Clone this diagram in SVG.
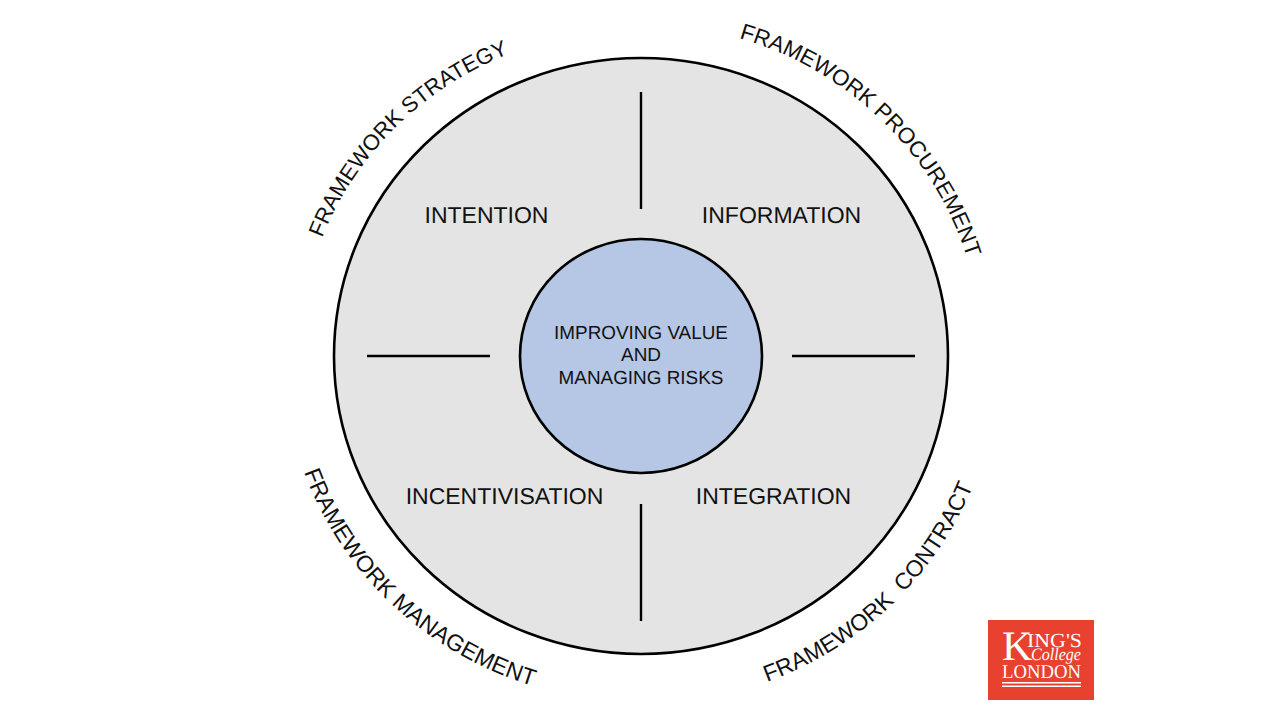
<svg xmlns="http://www.w3.org/2000/svg" width="1280" height="720" viewBox="0 0 1280 720">
  <style>
    text { font-family: "Liberation Sans", Arial, sans-serif; fill: #111; text-rendering: geometricPrecision; }
    .lab { font-size: 23px; text-anchor: middle; }
    .mid { font-size: 18.9px; text-anchor: middle; }
    .div { stroke: #000; stroke-width: 2.4; fill: none; }
    .logo { font-family: "Liberation Serif", "Times New Roman", serif; fill: #fff; }
  </style>
  <defs>
    <path id="pTL" d="M322 238 A336 326 0 0 1 641 30"/>
    <path id="pTR" d="M739 38 A341 331 0 0 1 982 356"/>
    <path id="pBL" d="M304 472 A357 346 0 0 0 641 702"/>
    <path id="pBR" d="M767 682 A357 346 0 0 0 998 356"/>
  </defs>
  <rect width="1280" height="720" fill="#fff"/>
  <g id="outer-circle">
    <ellipse cx="641" cy="356" rx="307" ry="298" fill="#e4e4e4" stroke="#000" stroke-width="2.600"/>
  </g>
  <g id="connectors">
    <line class="div" x1="641" y1="92" x2="641" y2="209"/>
    <line class="div" x1="641" y1="504" x2="641" y2="621"/>
    <line class="div" x1="367" y1="356" x2="490" y2="356"/>
    <line class="div" x1="792" y1="356" x2="915" y2="356"/>
  </g>
  <g id="centre">
    <ellipse cx="641" cy="356" rx="121" ry="117" fill="#b5c7e5" stroke="#000" stroke-width="2.600"/>
    <text class="mid" x="641" y="339">IMPROVING VALUE</text>
    <text class="mid" x="641" y="361">AND</text>
    <text class="mid" x="641" y="384">MANAGING RISKS</text>
  </g>
  <g id="intention"><text class="lab" x="486.500" y="223">INTENTION</text></g>
  <g id="information"><text class="lab" x="781.500" y="223">INFORMATION</text></g>
  <g id="incentivisation"><text class="lab" x="504.500" y="504">INCENTIVISATION</text></g>
  <g id="integration"><text class="lab" x="773.500" y="504">INTEGRATION</text></g>
  <g id="framework-strategy"><text style="font-size:22.1px"><textPath href="#pTL">FRAMEWORK STRATEGY</textPath></text></g>
  <g id="framework-procurement"><text style="font-size:22.4px"><textPath href="#pTR">FRAMEWORK PROCUREMENT</textPath></text></g>
  <g id="framework-management"><text style="font-size:23.1px"><textPath href="#pBL">FRAMEWORK MANAGEMENT</textPath></text></g>
  <g id="framework-contract"><text style="font-size:23px" xml:space="preserve"><textPath href="#pBR">FRAMEWORK  CONTRACT</textPath></text></g>
  <g id="logo">
    <rect x="988" y="620" width="106" height="80" fill="#e8412f"/>
    <text class="logo" x="1002" y="660" font-size="42">K</text>
    <text class="logo" x="1027" y="647" font-size="20" textLength="55" lengthAdjust="spacingAndGlyphs">ING'S</text>
    <text class="logo" x="1031" y="660" font-size="17.500" font-style="italic" textLength="50" lengthAdjust="spacingAndGlyphs">College</text>
    <text class="logo" x="1002" y="678" font-size="19.500" textLength="79" lengthAdjust="spacingAndGlyphs">LONDON</text>
    <rect x="1002" y="682" width="79" height="1.500" fill="#fff"/>
    <rect x="1002" y="685.500" width="79" height="1.500" fill="#fff"/>
  </g>
</svg>
